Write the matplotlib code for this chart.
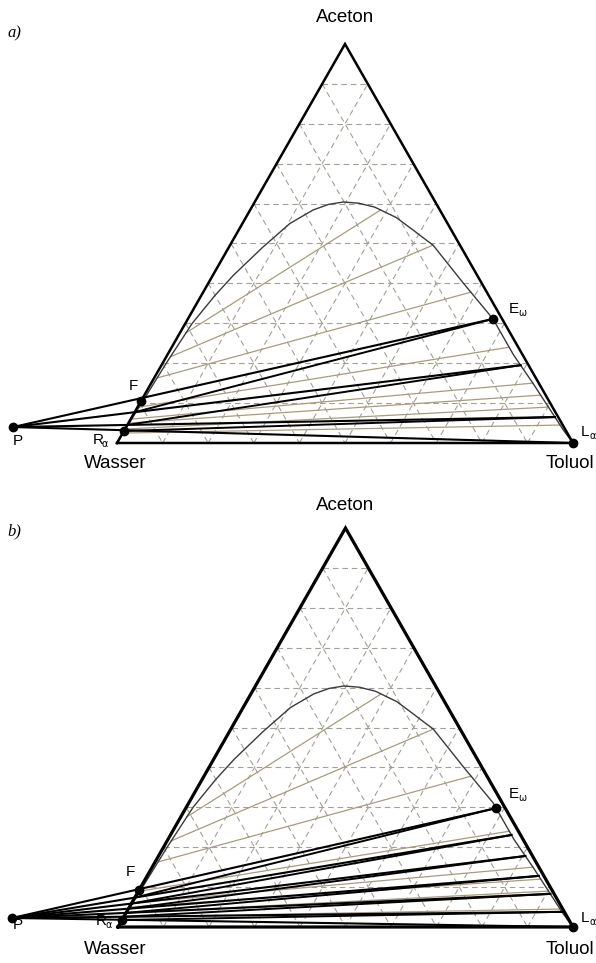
import numpy as np
import matplotlib
matplotlib.use("Agg")
import matplotlib.pyplot as plt

# ---------------- data (mass fractions: t = Toluol, a = Aceton) ----------------
binodal_t = [0.0, 0.004, 0.008, 0.015, 0.030, 0.045, 0.074, 0.104, 0.138, 0.165, 0.194,
             0.230, 0.270, 0.330, 0.382, 0.410, 0.445, 0.560, 0.669, 0.760, 0.837, 0.962, 1.0]
binodal_a = [0.0, 0.10, 0.20, 0.30, 0.37, 0.42, 0.49, 0.55, 0.584, 0.598, 0.604,
             0.601, 0.591, 0.565, 0.534, 0.517, 0.496, 0.400, 0.311, 0.22, 0.150, 0.033, 0.0]

# system tie lines: acetone in water phase (left) / toluene phase (right)
tie_left_a = [0.276, 0.216, 0.163, 0.09, 0.06, 0.05, 0.035, 0.025]
tie_right_a = [0.584, 0.496, 0.378, 0.24, 0.15, 0.12, 0.09, 0.045]

# panel a
a_P = (-0.248, 0.040)
a_F = 0.105
a_R = 0.030
a_stages = [0.311, 0.195, 0.065]
# panel b
b_P = (-0.244, 0.0226)
b_F = 0.093
b_R = 0.0175
b_stages = [0.298, 0.2306, 0.178, 0.128, 0.083, 0.038]

grid_levels = [0.1, 0.2, 0.3, 0.4, 0.5, 0.6, 0.7, 0.8, 0.9]

# ---------------- helpers ----------------
bt = np.array(binodal_t)
ba = np.array(binodal_a)
ipk = int(np.argmax(ba))
right_t, right_a = bt[ipk:][::-1], ba[ipk:][::-1]   # a increasing
left_t, left_a = bt[:ipk + 1], ba[:ipk + 1]


def xy(t, a):
    t = np.asarray(t, float)
    a = np.asarray(a, float)
    return t + a / 2.0, a


def right_pt(a):
    return float(np.interp(a, right_a, right_t)), a


def left_pt(a):
    return float(np.interp(a, left_a, left_t)), a


def edge_cross(P, E):
    # intersection of line P-E with Wasser/Aceton edge (t = 0)
    s = -P[0] / (E[0] - P[0])
    return P[1] + s * (E[1] - P[1])


W, H = 596, 963
fig = plt.figure(figsize=(W / 100, H / 100), dpi=100)
fig.patch.set_facecolor("white")


def panel(rect, xlim, ylim, P, Fa, Ra, stages, lw_tri):
    ax = fig.add_axes(rect)
    ax.set_xlim(*xlim)
    ax.set_ylim(*ylim)
    ax.axis("off")
    gc = "#a3a194"
    # grid
    for g in grid_levels:
        ax.plot(*xy([0, 1 - g], [g, g]), color=gc, lw=0.8, dashes=(5, 3.5), zorder=1)
        ax.plot(*xy([g, g], [0, 1 - g]), color=gc, lw=0.8, dashes=(5, 3.5), zorder=1)
        ax.plot(*xy([0, 1 - g], [1 - g, 0]), color=gc, lw=0.8, dashes=(5, 3.5), zorder=1)
    # system tie lines
    for la, ra in zip(tie_left_a, tie_right_a):
        L = left_pt(la)
        R = right_pt(ra)
        ax.plot(*xy([L[0], R[0]], [L[1], R[1]]), color="#a89c78", lw=0.9, zorder=2)
    # binodal
    ax.plot(*xy(bt, ba), color="#3a3a3a", lw=1.0, zorder=3)
    # stage construction
    E_pts = [right_pt(s) for s in stages] + [(1.0, 0.0)]
    for i, E in enumerate(E_pts):
        ax.plot(*xy([P[0], E[0]], [P[1], E[1]]), color="black", lw=1.5, zorder=4)
        if i < len(stages):
            if i + 1 < len(stages):
                r = edge_cross(P, E_pts[i + 1])
            else:
                r = Ra
            ax.plot(*xy([0, E[0]], [r, E[1]]), color="black", lw=1.4, zorder=4)
    # triangle
    ax.plot(*xy([0, 1, 0, 0], [0, 0, 1, 0]), color="black", lw=lw_tri,
            solid_joinstyle="miter", zorder=5)
    # points
    pts = [P, (0.0, Fa), (0.0, Ra), E_pts[0], (1.0, 0.0)]
    px, py = xy([p[0] for p in pts], [p[1] for p in pts])
    ax.plot(px, py, "o", color="black", ms=6, zorder=6)
    return ax


# panel a : Wasser at px (117,443), Toluol (573,443), Aceton (345,44)
top_h = 481
panel([0, 1 - top_h / H, 1, top_h / H],
      (-117 / 456, (W - 117) / 456), ((443 - top_h) / 399, 443 / 399),
      a_P, a_F, a_R, a_stages, 1.8)
# panel b : Wasser (118,927), Toluol (573,927), Aceton (347,528)
panel([0, 0, 1, 1 - top_h / H],
      (-118 / 455, (W - 118) / 455), ((927 - H) / 399, (927 - top_h) / 399),
      b_P, b_F, b_R, b_stages, 2.3)

sans = "Liberation Sans"


def T(x, y, s, size=12, ha="center", **kw):
    fig.text(x / W, 1 - y / H, s, fontsize=size, ha=ha, va="center",
             family=kw.pop("family", sans), **kw)


def sub(x, y, main, subs):
    T(x, y, main, 11)
    T(x + 4, y + 4, subs, 7, ha="left", family="DejaVu Sans")


for (tag, tag_y, aceton_y, F_pos, P_pos, R_pos, E_pos, L_pos, bot_y) in [
        ("a)", 33, 18, (133, 386), (18, 441), (98, 440), (514, 309), (585, 432), 463),
        ("b)", 531, 505, (130, 872), (18, 925), (101, 921), (514, 794), (585, 918), 949)]:
    T(7, tag_y, tag, 12, ha="left", family="Liberation Serif", style="italic")
    T(345, aceton_y, "Aceton", 13.5)
    T(*F_pos, "F", 11)
    T(*P_pos, "P", 11)
    sub(*R_pos, "R", "α")
    sub(*E_pos, "E", "ω")
    sub(*L_pos, "L", "α")
    T(115, bot_y, "Wasser", 13.5)
    T(570, bot_y, "Toluol", 13.5)

fig.savefig("out.png", dpi=100, facecolor="white")
